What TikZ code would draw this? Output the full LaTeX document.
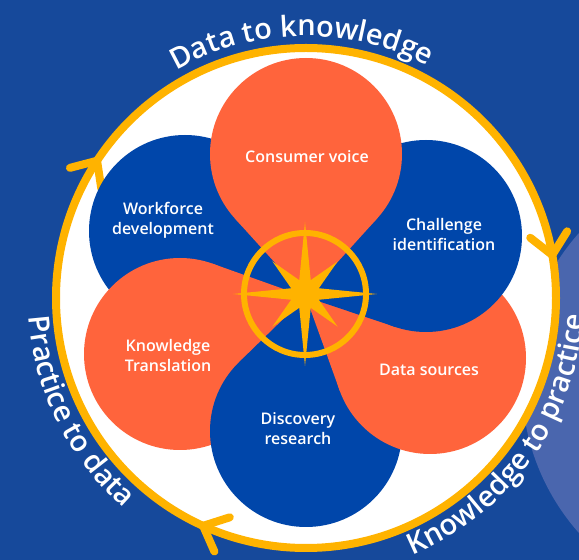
\documentclass[tikz,border=0pt]{standalone}
\usepackage{fontspec}
\setmainfont{Open Sans}
\newfontfamily\semifont{Open Sans Semibold}
\usetikzlibrary{calc}
\usetikzlibrary{decorations.text}

\definecolor{bgblue}{HTML}{16499B}
\definecolor{glowblue}{HTML}{4A66AE}
\definecolor{petalblue}{HTML}{0046AA}
\definecolor{petalorange}{HTML}{FF643C}
\definecolor{gold}{HTML}{FFB300}

\newcommand{\outerfont}{\semifont\fontsize{29}{29}\selectfont\color{white}}

\begin{document}
\begin{tikzpicture}[x=1pt,y=1pt]
    \def\ringrad{250pt}
    \def\petalrad{96pt}
    \def\textrad{278pt}
    \tikzstyle{petal}=[circle, inner sep=0pt, outer sep=0pt, minimum size=192pt]
    \tikzstyle{caption}=[align=center, text=white, font=\semifont\fontsize{16}{20}\selectfont]
    \tikzstyle{ring}=[draw=gold, line width=8pt]
    \tikzstyle{ringarrow}=[draw=gold, line width=8pt, line cap=round, line join=round]
    \tikzstyle{arctext}=[decorate, decoration={text along path, text align=center}]

    % background
    \useasboundingbox (0,0) rectangle (579,560);
    \clip (0,0) rectangle (579,560);
    \fill[bgblue] (0,0) rectangle (579,560);
    \fill[glowblue] (748,177) circle (226pt);

    % ring
    \coordinate (ctr) at (306,262);
    \fill[white] (ctr) circle (\ringrad);
    \draw[ring] (ctr) circle (\ringrad);
    \foreach \a in {146.7, 9.9, 245.7}
        \draw[ringarrow, shift={(ctr)}, rotate=\a] (250pt,0) ++(132:28pt) -- (250pt,0) -- ++(48:28pt);

    % petals
    \coordinate (tip) at (306,263);
    \node (wd) [petal] at (185,329) {};
    \node (kt) [petal] at (180,206) {};
    \node (dr) [petal] at (306,129) {};
    \node (ds) [petal] at (430,202) {};
    \node (ci) [petal] at (426,324) {};
    \node (cv) [petal] at (306,406) {};
    \foreach \p/\c in {wd/petalblue, kt/petalorange, dr/petalblue, ds/petalorange, ci/petalblue, cv/petalorange} {
        \fill[\c] (\p.center) circle (\petalrad);
        \fill[\c] (tip) -- (tangent cs:node=\p,point={(tip)},solution=1) -- (tangent cs:node=\p,point={(tip)},solution=2) -- cycle;
    }

    % compass
    \coordinate (cmp) at (305,266);
    \draw[gold, line width=6pt] (cmp) circle (61pt);
    \fill[gold, shift={(cmp)}] (0:72pt)
        \foreach \a/\r in {22.5/15pt, 45/46pt, 67.5/15pt, 90/72pt, 112.5/15pt, 135/46pt, 157.5/15pt, 180/72pt,
                           202.5/15pt, 225/46pt, 247.5/15pt, 270/72pt, 292.5/15pt, 315/46pt, 337.5/15pt} { -- (\a:\r) } -- cycle;

    % captions
    \path (cv)+(1,-3) node (ccv) [caption] {Consumer voice};
    \path (wd)+(-22,11) node (cwd) [caption] {Workforce\\development};
    \path (ci)+(18,1) node (cci) [caption] {Challenge\\identification};
    \path (kt)+(-12,-2) node (ckt) [caption] {Knowledge\\Translation};
    \path (ds)+(-1,-12) node (cds) [caption] {Data sources};
    \path (dr)+(-8,2) node (cdr) [caption] {Discovery\\research};

    % labels on the ring
    \path[arctext, decoration={text={|\outerfont|Data to knowledge}}] ($(ctr)+(130:262pt)$) arc (130:52:262pt);
    \path[arctext, decoration={text={|\outerfont|Knowledge to practice}}] ($(ctr)+(-80:\textrad)$) arc (-80:9:\textrad);
    \path[arctext, decoration={text={|\outerfont|Practice to data}}] ($(ctr)+(170:\textrad)$) arc (170:243:\textrad);
\end{tikzpicture}
\end{document}
